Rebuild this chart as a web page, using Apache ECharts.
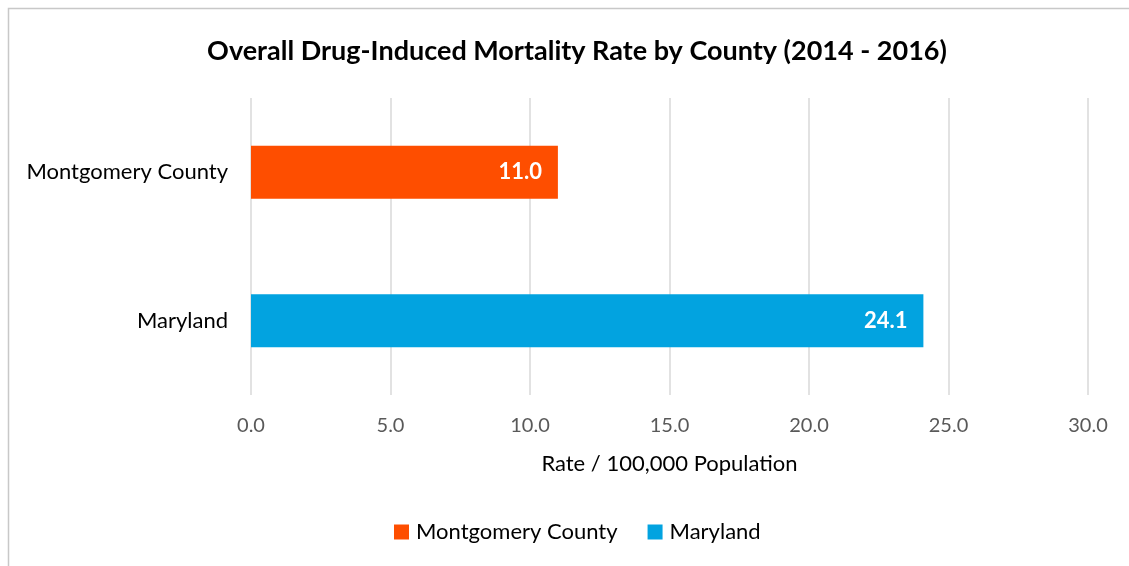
<!DOCTYPE html>
<html>
<head>
<meta charset="utf-8">
<script src="https://cdn.jsdelivr.net/npm/echarts@6/dist/echarts.min.js"></script>
<style>
  html, body { margin: 0; padding: 0; background: #fff; }
  #chart { width: 1129px; height: 566px; }
</style>
</head>
<body>
<div id="chart"></div>
<script>
// data
var categories = ['Montgomery County', 'Maryland'];
var rateValues = [11.0, 24.1];
var barColors = ['#FE4E00', '#02A3E0'];
var xTicks = { min: 0, max: 30, interval: 5 };

var font = 'Lato, "Open Sans", sans-serif';

var chart = echarts.init(document.getElementById('chart'));

// one series per category so the legend shows both
var series = categories.map(function (name, i) {
  var data = categories.map(function (c, j) {
    return j === i ? rateValues[j] : null;
  });
  return {
    name: name,
    type: 'bar',
    stack: 'all',
    barWidth: 53,
    itemStyle: { color: barColors[i] },
    label: {
      show: true,
      position: 'insideRight',
      distance: 16,
      color: '#fff',
      fontFamily: font,
      fontWeight: 'bold',
      fontSize: 22,
      formatter: function (p) { return p.value.toFixed(1); }
    },
    data: data
  };
});

var option = {
  animation: false,
  backgroundColor: '#fff',
  graphic: [{
    type: 'rect',
    shape: { x: 8.5, y: 8.5, width: 1140, height: 600 },
    style: { fill: 'none', stroke: '#c8c8c8', lineWidth: 1.5 },
    silent: true
  }],
  title: {
    text: 'Overall Drug-Induced Mortality Rate by County (2014 - 2016)',
    left: 572,
    textAlign: 'center',
    top: 33,
    textStyle: { fontFamily: font, fontWeight: 'bold', fontSize: 27, color: '#000' }
  },
  legend: {
    bottom: 18,
    left: 389,
    itemWidth: 15,
    itemHeight: 15,
    itemGap: 30,
    icon: 'rect',
    textStyle: { fontFamily: font, fontSize: 22, color: '#000', padding: [0, 0, 0, 2] },
    data: categories
  },
  grid: { left: 251, right: 41, top: 98, bottom: 171, containLabel: false },
  xAxis: {
    type: 'value',
    min: xTicks.min,
    max: xTicks.max,
    interval: xTicks.interval,
    name: 'Rate / 100,000 Population',
    nameLocation: 'middle',
    nameGap: 58,
    nameTextStyle: { fontFamily: font, fontSize: 22, color: '#000' },
    axisLine: { show: false },
    axisTick: { show: false },
    axisLabel: {
      margin: 21,
      fontFamily: font,
      fontSize: 20,
      color: '#595959',
      formatter: function (v) { return v.toFixed(1); }
    },
    splitLine: { lineStyle: { color: '#d9d9d9', width: 1.5 } }
  },
  yAxis: {
    type: 'category',
    inverse: true,
    data: categories,
    axisLine: { show: false },
    axisTick: { show: false },
    axisLabel: { margin: 23, fontFamily: font, fontSize: 22, color: '#000' }
  },
  series: series
};

chart.setOption(option);
</script>
</body>
</html>
